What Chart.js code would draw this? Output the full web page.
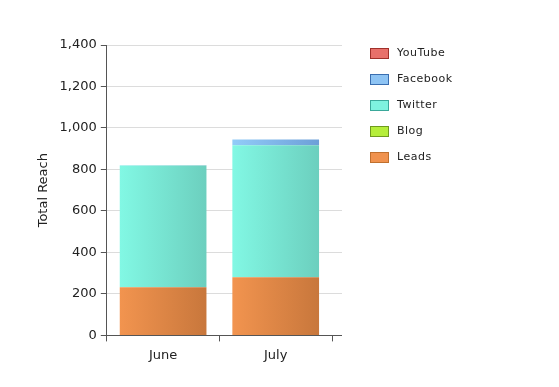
<!DOCTYPE html>
<html>
<head>
<meta charset="utf-8">
<script src="https://cdn.jsdelivr.net/npm/chart.js@4/dist/chart.umd.min.js"></script>
<style>
  html, body { margin: 0; padding: 0; background: #fff; }
  #wrap { position: relative; width: 559px; height: 387px; }
  #legend { position: absolute; left: 370px; top: 47px; font-family: 'DejaVu Sans', Verdana, sans-serif; font-size: 11px; color: #222; }
  .item { height: 26px; display: flex; align-items: flex-start; }
  .box { width: 17px; height: 9px; border: 1px solid; margin-top: 1px; margin-right: 8px; }
  .item span { line-height: 12px; letter-spacing: 0.5px; }
</style>
</head>
<body>
<div id="wrap">
  <canvas id="c" width="559" height="387"></canvas>
  <div id="legend"></div>
</div>
<script>
// data
const months = ['June', 'July'];
const leads = [232, 280];
const blog = [0, 0];
const twitter = [587, 637];
const facebook = [1, 28];
const youtube = [0, 0];
const yTicks = [0, 200, 400, 600, 800, 1000, 1200, 1400];

// colours: [left, right, legend fill, legend border]
const cols = {
    Leads: ['#f2944f', '#c8773c', '#f0924e', '#c0702e'],
    Blog: ['#bff04a', '#a0d030', '#b5ee3a', '#6f9a1e'],
    Twitter: ['#82f8e4', '#6ccfbe', '#7ef2df', '#3aa89a'],
    Facebook: ['#92ccf8', '#6d9fd8', '#8ec4f4', '#3a6eb0'],
    YouTube: ['#ee7870', '#c85650', '#e8706a', '#a0302a']
};

const BAR_PCT = 0.77;

function grad(name) {
    return (ctx) => {
        const chart = ctx.chart;
        const c = cols[name];
        if (!chart.chartArea || ctx.dataIndex === undefined) return c[2];
        const xs = chart.scales.x;
        const cx = xs.getPixelForValue(ctx.dataIndex);
        const w = xs.width / months.length * BAR_PCT;
        const g = chart.ctx.createLinearGradient(cx - w / 2, 0, cx + w / 2, 0);
        g.addColorStop(0, c[0]);
        g.addColorStop(1, c[1]);
        return g;
    };
}

function ds(name, data) {
    return {
        label: name,
        data,
        backgroundColor: grad(name),
        borderWidth: 0,
        barPercentage: BAR_PCT,
        categoryPercentage: 1
    };
}

// extend grid lines a bit past the last category, like the original
const extendGrid = {
    id: 'extendGrid',
    beforeDatasetsDraw(chart) {
        const { ctx, chartArea } = chart;
        const ys = chart.scales.y;
        ctx.save();
        ctx.lineWidth = 1;
        yTicks.forEach(v => {
            const y = Math.round(ys.getPixelForValue(v) - 0.5) + 0.5;
            ctx.strokeStyle = v === 0 ? '#555' : '#dcdcdc';
            ctx.beginPath();
            ctx.moveTo(chartArea.right, y);
            ctx.lineTo(chartArea.right + 10, y);
            ctx.stroke();
        });
        ctx.restore();
    }
};

const chart = new Chart(document.getElementById('c'), {
    type: 'bar',
    data: {
        labels: months,
        datasets: [
            ds('Leads', leads),
            ds('Blog', blog),
            ds('Twitter', twitter),
            ds('Facebook', facebook),
            ds('YouTube', youtube)
        ]
    },
    options: {
        responsive: false,
        animation: false,
        layout: { padding: { top: 45, left: 34, right: 227, bottom: 18 } },
        plugins: {
            tooltip: { enabled: false },
            legend: { display: false }
        },
        scales: {
            x: {
                stacked: true,
                offset: true,
                grid: {
                    offset: true,
                    drawOnChartArea: false,
                    tickLength: 6,
                    tickColor: '#555'
                },
                border: { color: '#555' },
                ticks: { color: '#222', font: { family: 'DejaVu Sans', size: 13 }, padding: 6 }
            },
            y: {
                stacked: true,
                min: 0,
                max: 1400,
                afterBuildTicks: (s) => { s.ticks = yTicks.map(v => ({ value: v })); },
                grid: { color: '#dcdcdc', tickLength: 6, tickColor: '#555' },
                border: { color: '#555' },
                ticks: {
                    color: '#222',
                    font: { family: 'DejaVu Sans', size: 13 },
                    padding: 4,
                    callback: (v) => v.toLocaleString('en-US')
                },
                title: {
                    display: true,
                    text: 'Total Reach',
                    color: '#222',
                    font: { family: 'DejaVu Sans', size: 13 },
                    padding: { top: 2, bottom: 4 }
                }
            }
        }
    },
    plugins: [extendGrid]
});

// legend, top to bottom in reverse stacking order
const legend = document.getElementById('legend');
chart.data.datasets.slice().reverse().forEach(d => {
    const c = cols[d.label];
    legend.innerHTML += `<div class="item"><div class="box" style="background:${c[2]};border-color:${c[3]}"></div><span>${d.label}</span></div>`;
});
</script>
</body>
</html>
